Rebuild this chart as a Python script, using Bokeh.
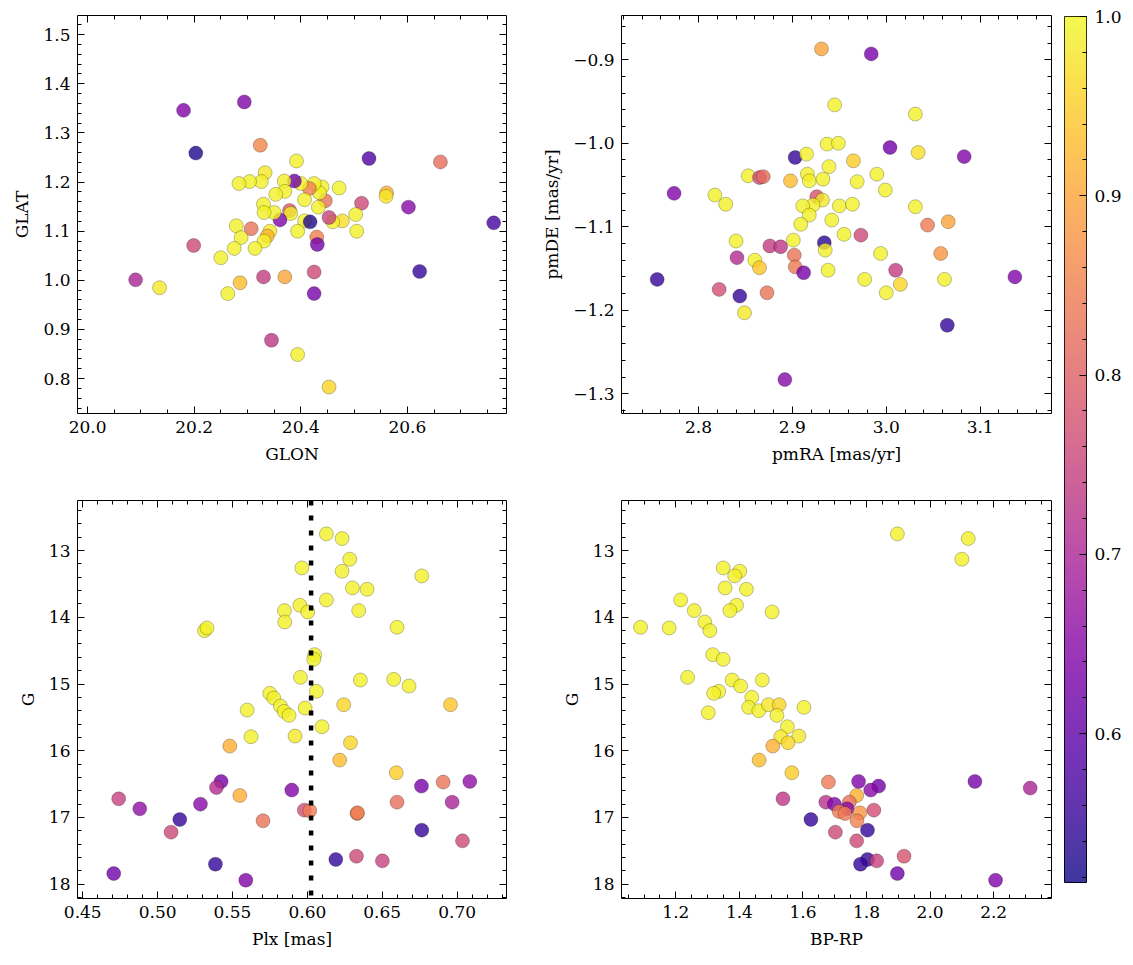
import numpy as np
from bokeh.plotting import figure
from bokeh.models import (Range1d, LinearAxis, SingleIntervalTicker, PrintfTickFormatter,
                          CustomJSTickFormatter, LinearColorMapper, Span, ColumnDataSource)
from bokeh.layouts import row, column
from bokeh.palettes import Plasma256
from bokeh.embed import file_html
from bokeh.resources import INLINE

# ---------------- data ----------------
# panel 1: GLON / GLAT
glon = [20.180, 20.294, 20.203, 20.324, 20.392, 20.528, 20.662, 20.762, 20.602, 20.623,
        20.561, 20.560, 20.514, 20.503, 20.505, 20.472, 20.478, 20.460, 20.453, 20.446,
        20.440, 20.435, 20.433, 20.425, 20.416, 20.400, 20.407, 20.407, 20.4175, 20.430,
        20.431, 20.425, 20.425, 20.394, 20.388, 20.369, 20.370, 20.379, 20.381, 20.361,
        20.350, 20.353, 20.333, 20.326, 20.304, 20.284, 20.330, 20.331, 20.342, 20.337,
        20.331, 20.307, 20.314, 20.279, 20.288, 20.275, 20.250, 20.199, 20.090, 20.135,
        20.263, 20.286, 20.330, 20.370, 20.345, 20.394, 20.453]
glat = [1.346, 1.363, 1.259, 1.275, 1.243, 1.248, 1.241, 1.117, 1.149, 1.018,
        1.178, 1.171, 1.157, 1.134, 1.100, 1.188, 1.121, 1.119, 1.128, 1.162,
        1.190, 1.178, 1.149, 1.197, 1.187, 1.197, 1.164, 1.121, 1.119, 1.088,
        1.073, 1.017, 0.973, 1.100, 1.202, 1.202, 1.181, 1.142, 1.136, 1.123,
        1.138, 1.175, 1.219, 1.201, 1.201, 1.197, 1.155, 1.138, 1.100, 1.090,
        1.080, 1.105, 1.065, 1.111, 1.087, 1.065, 1.046, 1.071, 1.001, 0.985,
        0.973, 0.995, 1.007, 1.007, 0.878, 0.849, 0.783]
prob1 = [0.64, 0.64, 0.53, 0.86, 0.99, 0.58, 0.82, 0.57, 0.65, 0.55,
         0.91, 0.98, 0.76, 0.99, 0.99, 0.99, 0.97, 0.99, 0.75, 0.83,
         0.99, 0.99, 0.99, 0.99, 0.85, 0.99, 0.99, 0.99, 0.53, 0.85,
         0.63, 0.76, 0.63, 0.99, 0.62, 0.99, 0.99, 0.79, 0.99, 0.64,
         0.99, 0.99, 0.98, 0.99, 0.99, 0.99, 0.99, 0.99, 0.98, 0.92,
         0.99, 0.83, 0.99, 0.99, 0.99, 0.99, 0.99, 0.76, 0.70, 0.98,
         0.99, 0.93, 0.74, 0.90, 0.73, 0.99, 0.96]

# panel 2: pmRA / pmDE
pmra = [2.931, 2.984, 2.945, 3.031, 2.937, 2.949, 3.004, 3.034, 3.083, 2.903,
        2.915, 2.939, 2.965, 2.853, 2.865, 2.869, 2.898, 2.916, 2.918, 2.9325,
        2.969, 2.990, 2.999, 2.774, 2.8175, 2.829, 2.926, 2.932, 2.922, 2.911,
        2.918, 2.950, 2.964, 3.031, 2.909, 2.942, 3.044, 3.066, 2.955, 2.973,
        2.840, 2.901, 2.876, 2.8875, 2.934, 2.935, 2.841, 2.860, 2.865, 2.902,
        2.903, 2.912, 2.938, 2.994, 3.010, 2.977, 3.000, 3.015, 3.058, 3.062,
        3.137, 2.756, 2.822, 2.844, 2.873, 2.849, 3.065, 2.892]
pmde = [-0.887, -0.893, -0.954, -0.965, -1.001, -1.000, -1.005, -1.011, -1.016, -1.017,
        -1.013, -1.028, -1.021, -1.039, -1.041, -1.040, -1.045, -1.037, -1.045, -1.043,
        -1.046, -1.037, -1.056, -1.060, -1.062, -1.073, -1.064, -1.068, -1.074, -1.075,
        -1.086, -1.075, -1.073, -1.076, -1.097, -1.092, -1.098, -1.094, -1.109, -1.110,
        -1.117, -1.116, -1.123, -1.124, -1.119, -1.128, -1.137, -1.140, -1.149, -1.134,
        -1.148, -1.155, -1.152, -1.132, -1.152, -1.163, -1.179, -1.169, -1.132, -1.163,
        -1.160, -1.163, -1.175, -1.183, -1.179, -1.203, -1.218, -1.283]
prob2 = [0.90, 0.63, 0.99, 0.99, 0.99, 0.99, 0.62, 0.97, 0.64, 0.55,
         0.99, 0.99, 0.95, 0.99, 0.76, 0.82, 0.93, 0.99, 0.99, 0.99,
         0.99, 0.99, 0.99, 0.64, 0.99, 0.99, 0.78, 0.98, 0.99, 0.99,
         0.99, 0.99, 0.99, 0.99, 0.99, 0.99, 0.84, 0.90, 0.99, 0.76,
         0.99, 0.99, 0.74, 0.73, 0.54, 0.99, 0.71, 0.99, 0.94, 0.83,
         0.84, 0.63, 0.99, 0.99, 0.74, 0.99, 0.99, 0.96, 0.88, 0.99,
         0.64, 0.55, 0.77, 0.55, 0.83, 0.98, 0.55, 0.65]

# panel 3: Plx / G
plx = [0.6127, 0.6232, 0.6283, 0.5963, 0.6232, 0.6764, 0.6301, 0.6399, 0.6127, 0.5950,
       0.5847, 0.6003, 0.6343, 0.5849, 0.5313, 0.5330, 0.6599, 0.6049, 0.6043, 0.5954,
       0.6354, 0.6577, 0.6679, 0.6060, 0.5749, 0.5776, 0.5820, 0.5845, 0.5878, 0.5598,
       0.5985, 0.6243, 0.6956, 0.6098, 0.5624, 0.5918, 0.6288, 0.5482, 0.6216, 0.6594,
       0.5424, 0.5393, 0.5549, 0.5896, 0.4740, 0.4881, 0.5286, 0.5148, 0.5090, 0.5704,
       0.5980, 0.6016, 0.6332, 0.6335, 0.6762, 0.6907, 0.7085, 0.6599, 0.6967, 0.6764,
       0.7036, 0.6190, 0.6328, 0.6501, 0.4707, 0.5386, 0.5589]
g_plx = [12.75, 12.82, 13.13, 13.26, 13.31, 13.38, 13.56, 13.58, 13.74, 13.82,
         13.90, 13.92, 13.90, 14.07, 14.20, 14.16, 14.15, 14.56, 14.63, 14.90,
         14.94, 14.93, 15.03, 15.11, 15.14, 15.21, 15.33, 15.41, 15.47, 15.39,
         15.36, 15.31, 15.31, 15.64, 15.79, 15.78, 15.88, 15.93, 16.14, 16.33,
         16.46, 16.55, 16.67, 16.59, 16.72, 16.87, 16.80, 17.03, 17.22, 17.05,
         16.89, 16.90, 16.94, 16.93, 16.53, 16.47, 16.46, 16.77, 16.77, 17.19,
         17.35, 17.63, 17.58, 17.65, 17.84, 17.70, 17.94]
prob3 = [0.99, 0.99, 0.99, 0.99, 0.99, 0.99, 0.99, 0.99, 0.99, 0.99,
         0.99, 0.99, 0.99, 0.99, 0.99, 0.99, 0.99, 0.99, 0.99, 0.99,
         0.99, 0.99, 0.99, 0.99, 0.99, 0.99, 0.99, 0.99, 0.99, 0.99,
         0.99, 0.96, 0.94, 0.99, 0.99, 0.98, 0.96, 0.91, 0.93, 0.95,
         0.63, 0.71, 0.91, 0.64, 0.75, 0.66, 0.65, 0.55, 0.76, 0.83,
         0.77, 0.84, 0.86, 0.84, 0.63, 0.83, 0.66, 0.82, 0.70, 0.55,
         0.76, 0.55, 0.76, 0.75, 0.62, 0.55, 0.64]
plx_mean = 0.6025

# panel 4: BP-RP / G
bprp = [1.897, 2.120, 2.100, 1.349, 1.401, 1.385, 1.355, 1.422, 1.215, 1.391,
        1.370, 1.503, 1.258, 1.291, 1.179, 1.089, 1.307, 1.316, 1.349, 1.237,
        1.377, 1.472, 1.404, 1.335, 1.319, 1.439, 1.429, 1.461, 1.302, 1.491,
        1.525, 1.518, 1.603, 1.551, 1.530, 1.587, 1.553, 1.505, 1.462, 1.565,
        1.680, 1.775, 1.838, 1.813, 1.769, 1.537, 1.672, 1.699, 1.746, 1.739,
        1.714, 1.732, 1.779, 1.823, 1.770, 1.625, 1.803, 1.702, 1.769, 1.918,
        1.803, 1.781, 1.832, 1.897, 2.206, 2.141, 2.315]
g_col = [12.75, 12.82, 13.13, 13.26, 13.31, 13.38, 13.56, 13.58, 13.74, 13.82,
         13.90, 13.92, 13.90, 14.07, 14.16, 14.15, 14.20, 14.56, 14.63, 14.90,
         14.94, 14.94, 15.03, 15.11, 15.14, 15.20, 15.35, 15.40, 15.43, 15.31,
         15.31, 15.47, 15.35, 15.64, 15.79, 15.78, 15.88, 15.93, 16.14, 16.33,
         16.47, 16.46, 16.53, 16.59, 16.67, 16.72, 16.77, 16.80, 16.77, 16.87,
         16.91, 16.94, 16.93, 16.89, 17.05, 17.03, 17.19, 17.22, 17.35, 17.58,
         17.63, 17.70, 17.65, 17.84, 17.94, 16.46, 16.56]
prob4 = [0.99, 0.99, 0.99, 0.99, 0.99, 0.99, 0.99, 0.99, 0.99, 0.99,
         0.99, 0.99, 0.99, 0.99, 0.99, 0.99, 0.99, 0.99, 0.99, 0.99,
         0.99, 0.99, 0.99, 0.99, 0.99, 0.99, 0.99, 0.99, 0.99, 0.98,
         0.96, 0.99, 0.99, 0.99, 0.98, 0.98, 0.96, 0.91, 0.93, 0.95,
         0.84, 0.64, 0.62, 0.65, 0.91, 0.73, 0.72, 0.64, 0.83, 0.65,
         0.84, 0.84, 0.88, 0.77, 0.85, 0.55, 0.55, 0.76, 0.76, 0.78,
         0.55, 0.55, 0.75, 0.62, 0.64, 0.63, 0.70]

P_LOW, P_HIGH = 0.517, 1.0

# ---------------- styling ----------------
FONT = "DejaVu Serif"
FS = "17px"
mapper = LinearColorMapper(palette=Plasma256, low=P_LOW, high=P_HIGH)


def style_axis(ax, interval, nminor, fmt=None, label=None, hidden=False):
    ax.ticker = SingleIntervalTicker(interval=interval, num_minor_ticks=nminor)
    ax.major_tick_in = 7
    ax.major_tick_out = 0
    ax.minor_tick_in = 4
    ax.minor_tick_out = 0
    ax.major_tick_line_color = "black"
    ax.minor_tick_line_color = "black"
    ax.major_tick_line_width = 1
    ax.minor_tick_line_width = 1
    ax.axis_line_color = None
    if hidden:
        ax.formatter = CustomJSTickFormatter(code="return ''")
        ax.major_label_text_font_size = "0px"
        ax.major_label_standoff = 0
    else:
        ax.formatter = fmt
        ax.major_label_text_font = FONT
        ax.major_label_text_font_size = FS
        ax.major_label_text_color = "black"
        ax.major_label_standoff = 7
        if label:
            ax.axis_label = label
            ax.axis_label_text_font = FONT
            ax.axis_label_text_font_size = FS
            ax.axis_label_text_font_style = "normal"
            ax.axis_label_text_color = "black"
            ax.axis_label_standoff = 8


def make_panel(width, height, xr, yr, borders, xint, xmin, xfmt, yint, ymin, yfmt,
               xlabel, ylabel, xs, ys, cs):
    p = figure(width=width, height=height, x_range=Range1d(*xr), y_range=Range1d(*yr),
               toolbar_location=None, output_backend="svg",
               min_border_left=borders[0], min_border_right=borders[1],
               min_border_top=borders[2], min_border_bottom=borders[3])
    p.xgrid.grid_line_color = None
    p.ygrid.grid_line_color = None
    p.outline_line_color = "black"
    p.outline_line_width = 1
    p.background_fill_color = "white"
    p.border_fill_color = "white"
    style_axis(p.xaxis[0], xint, xmin, xfmt, xlabel)
    style_axis(p.yaxis[0], yint, ymin, yfmt, ylabel)
    top = LinearAxis()
    style_axis(top, xint, xmin, hidden=True)
    p.add_layout(top, "above")
    right = LinearAxis()
    style_axis(right, yint, ymin, hidden=True)
    p.add_layout(right, "right")
    src = ColumnDataSource(dict(x=xs, y=ys, c=cs))
    p.scatter("x", "y", source=src, size=14,
              fill_color={"field": "c", "transform": mapper}, fill_alpha=0.8,
              line_color="black", line_alpha=0.35, line_width=0.7)
    return p


fminus = CustomJSTickFormatter(code="return tick.toFixed(1).replace('-', '\\u2212')")

p1 = make_panel(516, 480, (19.981, 20.786), (0.729, 1.539), (77, 10, 15, 67),
                0.2, 4, PrintfTickFormatter(format="%.1f"), 0.1, 5, PrintfTickFormatter(format="%.1f"),
                "GLON", "GLAT", glon, glat, prob1)
p2 = make_panel(541, 480, (2.718, 3.176), (-1.3236, -0.847), (105, 6, 15, 67),
                0.1, 5, PrintfTickFormatter(format="%.1f"), 0.1, 5, fminus,
                "pmRA [mas/yr]", "pmDE [mas/yr]", pmra, pmde, prob2)
p3 = make_panel(516, 485, (0.4465, 0.733), (18.214, 12.25), (77, 10, 20, 67),
                0.05, 5, PrintfTickFormatter(format="%.2f"), 1, 5, PrintfTickFormatter(format="%d"),
                "Plx [mas]", "G", plx, g_plx, prob3)
p3.add_layout(Span(location=plx_mean, dimension="height", line_color="black",
                   line_width=4.5, line_dash="5 10"))
p4 = make_panel(541, 485, (1.029, 2.382), (18.214, 12.25), (105, 6, 20, 67),
                0.2, 4, PrintfTickFormatter(format="%.1f"), 1, 5, PrintfTickFormatter(format="%d"),
                "BP-RP", "G", bprp, g_col, prob4)

# ---------------- colour bar ----------------
cb = figure(width=74, height=965, x_range=Range1d(0, 1), y_range=Range1d(P_LOW, P_HIGH),
            toolbar_location=None, output_backend="svg", x_axis_location=None,
            y_axis_location="right",
            min_border_left=7, min_border_right=45, min_border_top=16, min_border_bottom=83)
cb.xgrid.grid_line_color = None
cb.ygrid.grid_line_color = None
cb.outline_line_color = "black"
cb.outline_line_width = 1
grad = np.linspace(P_LOW, P_HIGH, 256).reshape(-1, 1)
cb.image(image=[grad], x=0, y=P_LOW, dw=1, dh=P_HIGH - P_LOW, color_mapper=mapper,
         global_alpha=0.8)
ya = cb.yaxis[0]
style_axis(ya, 0.1, 5, PrintfTickFormatter(format="%.1f"))
ya.major_label_standoff = 8

layout = row(column(row(p1, p2), row(p3, p4)), cb)
open("out.html", "w").write(file_html(layout, INLINE))
